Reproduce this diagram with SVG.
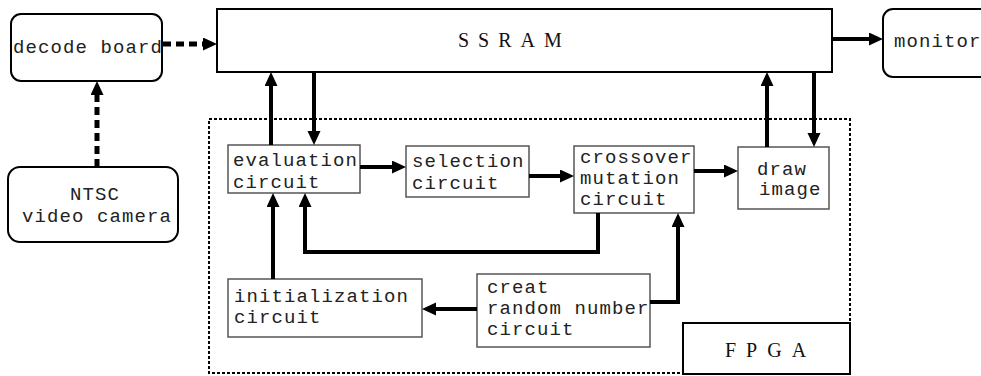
<svg xmlns="http://www.w3.org/2000/svg" width="981" height="376" viewBox="0 0 981 376">
  <style>
    .box { fill: #fff; stroke: #555; stroke-width: 1.5; }
    .rbox { fill: #fff; stroke: #000; stroke-width: 2; }
    .big { fill: #fff; stroke: #000; stroke-width: 2; }
    .lbl { font-family: "Liberation Mono", "DejaVu Sans Mono", monospace; font-size: 19px; letter-spacing: 1.1px; fill: #222; }
    .title { font-family: "Liberation Serif", "DejaVu Serif", serif; font-size: 20px; fill: #111; }
    .wire { fill: none; stroke: #000; stroke-width: 4; marker-end: url(#ah); }
    .dash { fill: none; stroke: #000; stroke-width: 5; stroke-dasharray: 8 5; marker-end: url(#ah); }
    .frame { fill: none; stroke: #000; stroke-width: 2; stroke-dasharray: 3 2; }
  </style>
  <defs>
    <marker id="ah" markerUnits="userSpaceOnUse" markerWidth="14" markerHeight="14" refX="0" refY="6.5" orient="auto">
      <path d="M0,0 L14,6.5 L0,13 z" fill="#000"/>
    </marker>
  </defs>

  <!-- FPGA boundary -->
  <g id="fpga">
    <rect class="frame" x="209" y="119" width="641" height="254"/>
    <rect class="big" x="683" y="323" width="167" height="51"/>
    <text class="title" x="725" y="357" letter-spacing="10">FPGA</text>
  </g>

  <g id="ssram">
    <rect class="big" x="217" y="9" width="615" height="63"/>
    <text class="title" x="458" y="47" letter-spacing="9">SSRAM</text>
  </g>

  <g id="decode">
    <rect class="rbox" x="11" y="14" width="151" height="67" rx="10"/>
    <text class="lbl" x="13" y="53" letter-spacing="0.6">decode board</text>
  </g>

  <g id="monitor">
    <rect class="rbox" x="883" y="9" width="110" height="68" rx="10"/>
    <text class="lbl" x="894" y="47" font-size="18" letter-spacing="0.2">monitor</text>
  </g>

  <g id="camera">
    <rect class="rbox" x="8" y="167" width="170" height="75" rx="12"/>
    <text class="lbl" x="95" y="200" text-anchor="middle" letter-spacing="0">NTSC</text>
    <text class="lbl" x="22" y="222" letter-spacing="0.8">video camera</text>
  </g>

  <g id="evaluation">
    <rect class="box" x="228" y="145" width="132" height="48"/>
    <text class="lbl" x="233" y="166">evaluation</text>
    <text class="lbl" x="233" y="188">circuit</text>
  </g>

  <g id="selection">
    <rect class="box" x="406" y="146" width="123" height="51"/>
    <text class="lbl" x="412" y="167">selection</text>
    <text class="lbl" x="412" y="189">circuit</text>
  </g>

  <g id="crossover">
    <rect class="box" x="574" y="146" width="120" height="67"/>
    <text class="lbl" x="580" y="163" letter-spacing="0.9">crossover</text>
    <text class="lbl" x="580" y="184" letter-spacing="0.9">mutation</text>
    <text class="lbl" x="580" y="205" letter-spacing="0.9">circuit</text>
  </g>

  <g id="draw">
    <rect class="box" x="738" y="147" width="91" height="62"/>
    <text class="lbl" x="757" y="175">draw</text>
    <text class="lbl" x="759" y="195">image</text>
  </g>

  <g id="initialization">
    <rect class="box" x="228" y="279" width="194" height="58"/>
    <text class="lbl" x="234" y="302">initialization</text>
    <text class="lbl" x="234" y="323">circuit</text>
  </g>

  <g id="random">
    <rect class="box" x="477" y="274" width="173" height="73"/>
    <text class="lbl" x="487" y="293">creat</text>
    <text class="lbl" x="487" y="314">random number</text>
    <text class="lbl" x="487" y="335">circuit</text>
  </g>

  <g id="connectors">
    <path class="dash" d="M163,44 H203"/>
    <path class="dash" d="M97,167 V95"/>
    <path class="wire" d="M832,39 H869"/>
    <path class="wire" d="M271,145 V86"/>
    <path class="wire" d="M314,72 V131"/>
    <path class="wire" d="M360,167 H392"/>
    <path class="wire" d="M529,176 H560"/>
    <path class="wire" d="M694,171 H724"/>
    <path class="wire" d="M767,147 V86"/>
    <path class="wire" d="M814,72 V133"/>
    <path class="wire" d="M598,213 V252 H305 V207"/>
    <path class="wire" d="M273,279 V207"/>
    <path class="wire" d="M477,309 H436"/>
    <path class="wire" d="M650,302 H678 V227"/>
  </g>
</svg>
